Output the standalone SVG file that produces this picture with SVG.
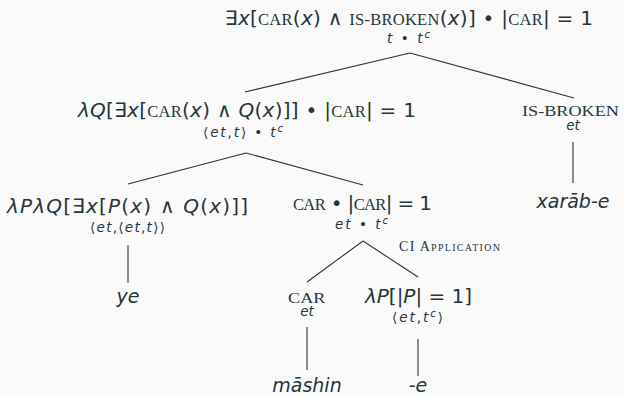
<svg xmlns="http://www.w3.org/2000/svg" width="624" height="397" viewBox="0 0 624 397">
<style>
text{fill:#26363a;font-family:"DejaVu Sans","Noto Sans",sans-serif}
.m{font-size:20px}
.i{font-style:italic}
.sc{font-family:"Liberation Serif","DejaVu Serif",serif;font-size:16.5px}
.scs{font-family:"Liberation Serif","DejaVu Serif",serif;font-size:14px}
.ty{font-size:13.5px}
.tyc{font-size:13.5px;text-anchor:middle}
.sup{font-size:10px}
.leaf{font-size:19px;font-style:italic;text-anchor:middle}
.lbl{font-family:"Liberation Serif","DejaVu Serif",serif;font-size:14px;font-variant:small-caps}
.e{stroke:#26363a;stroke-width:1.1;fill:none}
</style>
<rect width="624" height="397" fill="#fafafa"/>
<g id="connectors">
<line class="e" x1="410" y1="53" x2="245" y2="92"/>
<line class="e" x1="410" y1="53" x2="574" y2="98"/>
<line class="e" x1="246" y1="153" x2="128" y2="184"/>
<line class="e" x1="246" y1="153" x2="363" y2="185"/>
<line class="e" x1="573" y1="142" x2="573" y2="183"/>
<line class="e" x1="128" y1="245" x2="128" y2="283"/>
<line class="e" x1="363" y1="241" x2="307" y2="282"/>
<line class="e" x1="363" y1="241" x2="418" y2="277"/>
<line class="e" x1="307" y1="327" x2="307" y2="370"/>
<line class="e" x1="418" y1="339" x2="418" y2="376"/>
</g>
<g id="root">
<text class="m" x="225" y="25" textLength="368" lengthAdjust="spacing">∃<tspan class="i">x</tspan>[<tspan class="sc">CAR</tspan>(<tspan class="i">x</tspan>) ∧ <tspan class="sc">IS-BROKEN</tspan>(<tspan class="i">x</tspan>)] • |<tspan class="sc">CAR</tspan>| = 1</text>
<text class="ty" x="387" y="43" textLength="43" lengthAdjust="spacing"><tspan class="i">t</tspan> • <tspan class="i">t</tspan><tspan class="sup i" dy="-5">c</tspan></text>
</g>
<g id="n-lambdaQ">
<text class="m" x="78" y="117" textLength="338" lengthAdjust="spacing"><tspan class="i">λQ</tspan>[∃<tspan class="i">x</tspan>[<tspan class="sc">CAR</tspan>(<tspan class="i">x</tspan>) ∧ <tspan class="i">Q</tspan>(<tspan class="i">x</tspan>)]] • |<tspan class="sc">CAR</tspan>| = 1</text>
<text class="ty" x="203" y="137" textLength="80" lengthAdjust="spacing">⟨<tspan class="i">et</tspan>,<tspan class="i">t</tspan>⟩ • <tspan class="i">t</tspan><tspan class="sup i" dy="-5">c</tspan></text>
</g>
<g id="n-isbroken">
<text class="scs" transform="translate(522 116) scale(1.3 1)">IS-BROKEN</text>
<text class="tyc i" x="573" y="129.5">et</text>
</g>
<g id="leaf-xarabe">
<text class="leaf" x="573" y="208">xarāb-e</text>
</g>
<g id="n-det">
<text class="m" x="7" y="213" textLength="241" lengthAdjust="spacing"><tspan class="i">λPλQ</tspan>[∃<tspan class="i">x</tspan>[<tspan class="i">P</tspan>(<tspan class="i">x</tspan>) ∧ <tspan class="i">Q</tspan>(<tspan class="i">x</tspan>)]]</text>
<text class="ty" x="90" y="232" textLength="75" lengthAdjust="spacing">⟨<tspan class="i">et</tspan>,⟨<tspan class="i">et</tspan>,<tspan class="i">t</tspan>⟩⟩</text>
</g>
<g id="leaf-ye">
<text class="leaf" x="128" y="303">ye</text>
</g>
<g id="n-carci">
<text class="m" x="293" y="210" textLength="139" lengthAdjust="spacing"><tspan class="sc">CAR</tspan> • |<tspan class="sc">CAR</tspan>| = 1</text>
<text class="ty" x="335" y="229" textLength="53" lengthAdjust="spacing"><tspan class="i">et</tspan> • <tspan class="i">t</tspan><tspan class="sup i" dy="-5">c</tspan></text>
<text class="lbl" x="399" y="251" textLength="101" lengthAdjust="spacing">CI Application</text>
</g>
<g id="n-car">
<text class="scs" transform="translate(288 302.5) scale(1.3 1)">CAR</text>
<text class="tyc i" x="307" y="316">et</text>
</g>
<g id="leaf-mashin">
<text class="leaf" x="307" y="392">māshin</text>
</g>
<g id="n-lambdaP">
<text class="m" x="365" y="303" textLength="107" lengthAdjust="spacing"><tspan class="i">λP</tspan>[|<tspan class="i">P</tspan>| = 1]</text>
<text class="ty" x="392" y="322" textLength="51" lengthAdjust="spacing">⟨<tspan class="i">et</tspan>,<tspan class="i">t</tspan><tspan class="sup i" dy="-5">c</tspan><tspan dy="5">⟩</tspan></text>
</g>
<g id="leaf-e">
<text class="leaf" x="418" y="392">-e</text>
</g>
</svg>
